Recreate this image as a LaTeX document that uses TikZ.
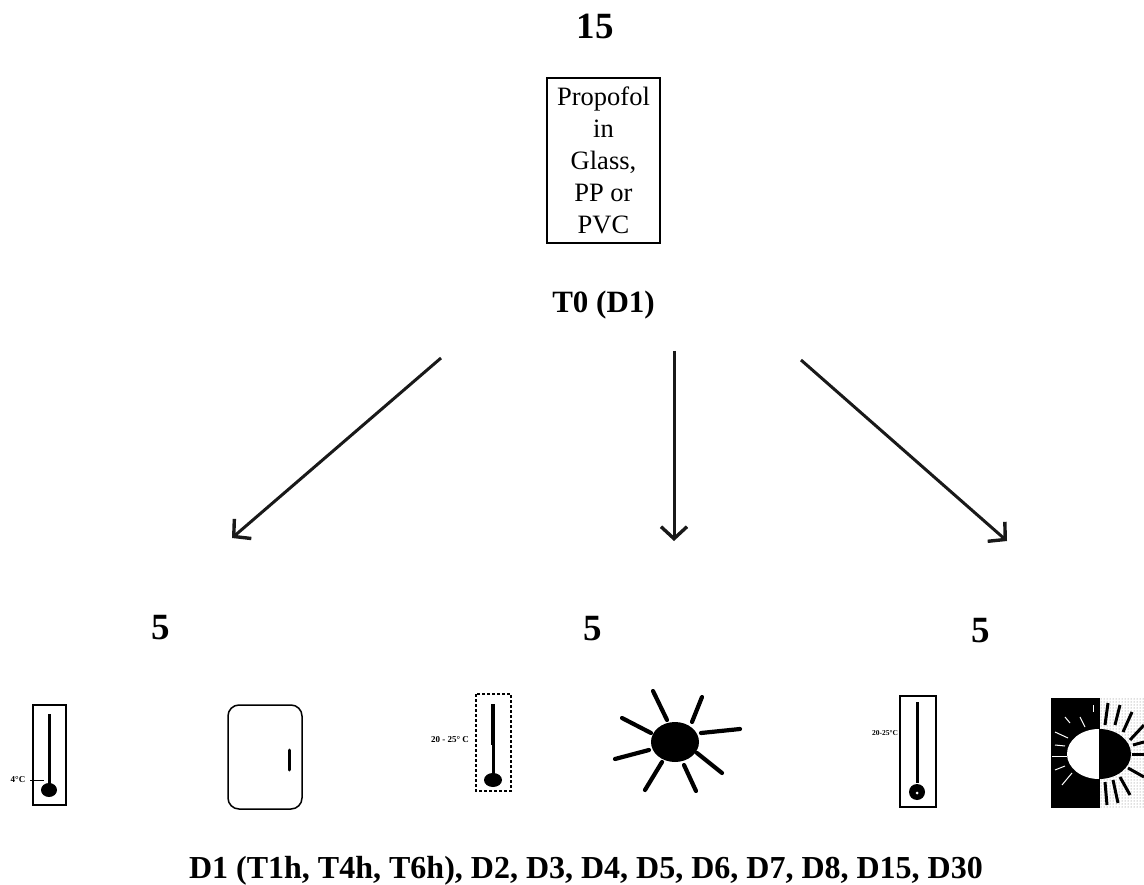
\documentclass[tikz,border=0pt]{standalone}
\usepackage{fontspec}
\setmainfont{Liberation Serif}
\usetikzlibrary{arrows.meta, positioning, patterns}
\tikzset{
  % Labels
  countlabel/.style={font=\fontsize{37}{37}\selectfont\bfseries, inner sep=0pt},
  timelabel/.style={font=\fontsize{31}{31}\selectfont\bfseries, inner sep=0pt},
  daylabel/.style={font=\fontsize{32}{32}\selectfont\bfseries, inner sep=0pt},
  templabel/.style={font=\fontsize{9}{9}\selectfont\bfseries, inner sep=0pt},
  % Sample box
  vialbox/.style={draw, line width=1.2pt, align=center, minimum width=113pt, minimum height=165pt,
    inner sep=0pt, font=\fontsize{26.5}{32}\selectfont},
  % Pointers
  flowpointer/.style={-{Straight Barb[length=12pt,width=26pt,line width=3.4pt]}, line width=3pt, draw=black!90},
  % Icons
  thermobox/.style={draw, line width=1.5pt},
  thermostem/.style={line width=3pt},
  sunray/.style={line width=4.2pt, line cap=round},
  nightray/.style={line width=1pt, draw=white},
  dayray/.style={line width=3pt},
}

\begin{document}
\begin{tikzpicture}[x=1pt, y=-1pt]
  \useasboundingbox (0,0) rectangle (1144,885);

  % Define top nodes
  \node[vialbox] (vial) at (603.5,160.5) {Propofol\\in\\Glass,\\PP or\\PVC};
  \node[countlabel, above=38pt of vial, xshift=-8.5pt] (total) {15};
  \node[timelabel, below=47pt of vial] (start) {T0 (D1)};

  % Arrow ends
  \coordinate (fromleft) at (441,358);
  \coordinate (frommid) at (674,351);
  \coordinate (fromright) at (801,360);
  \coordinate (toleft) at (232,538);
  \coordinate (tomid) at (674,541);
  \coordinate (toright) at (1007,541);

  \draw[flowpointer] (fromleft) -- (toleft);
  \draw[flowpointer] (frommid) -- (tomid);
  \draw[flowpointer] (fromright) -- (toright);

  % Group counts
  \node[countlabel] (coldcount) at (161,628) {5};
  \node[countlabel] (lightcount) at (593,629) {5};
  \node[countlabel] (darkcount) at (981,631) {5};

  % Fridge group
  \draw[thermobox] (33,705) rectangle (66,805);
  \draw[thermostem] (49,714) -- (49,785);
  \fill (49,790) ellipse (8 and 7);
  \draw[line width=0.6pt] (30,780) -- (44,780);
  \node[templabel] (coldtemp) at (18,780) {4°C};
  \draw[line width=1.5pt, rounded corners=11pt] (228,705) rectangle (302,809);
  \draw[line width=3pt, line cap=round] (289,750) -- (289,770);

  % Light group
  \draw[thermobox, densely dashed, line width=1.2pt] (476,694) rectangle (511,791);
  \draw[thermostem, line width=4pt] (493,704) -- (493,745);
  \draw[thermostem] (493,745) -- (493,775);
  \fill (493,780) ellipse (9 and 7);
  \node[templabel] (lighttemp) at (450,740) {20 - 25° C};
  \fill (675,742) ellipse (24 and 20);
  \foreach \xa/\ya/\xb/\yb in {653/691/667/720, 702/697/692/722, 740/729/701/733,
      622/718/651/733, 615/759/649/750, 722/773/697/753, 645/790/662/762, 696/791/684/765}
    \draw[sunray] (\xa,\ya) -- (\xb,\yb);

  % Dark group
  \draw[thermobox] (900,696) rectangle (936,807);
  \draw[thermostem] (917,702) -- (917,783);
  \fill (917,792) circle (8);
  \fill[white] (917,793) circle (1.5);
  \node[templabel, font=\fontsize{7.5}{7.5}\selectfont\bfseries] (darktemp) at (885,733) {20-25°C};
  \fill[pattern=dots, pattern color=black!55] (1100,698) rectangle (1144,808);
  \fill (1051,698) rectangle (1100,808);
  \fill[white] (1099,729) arc (90:270:32 and -25) -- cycle;
  \fill (1099,729) arc (90:-90:32 and -25) -- cycle;
  \foreach \xa/\ya/\xb/\yb in {1105/725/1108/703, 1115/725/1120/705, 1123/732/1132/712,
      1130/740/1144/725, 1133/745/1144/742, 1132/754/1144/754, 1128/768/1144/777,
      1120/777/1130/795, 1113/780/1118/803, 1105/782/1107/805}
    \draw[dayray] (\xa,\ya) -- (\xb,\yb);
  \foreach \xa/\ya/\xb/\yb in {1052/756/1067/756, 1055/732/1068/738, 1055/745/1065/746,
      1065/717/1070/723, 1080/717/1085/727, 1093/705/1093/712, 1055/770/1065/766, 1062/785/1072/773}
    \draw[nightray] (\xa,\ya) -- (\xb,\yb);

  % Sampling times
  \node[daylabel] (times) at (586,871) {D1 (T1h, T4h, T6h), D2, D3, D4, D5, D6, D7, D8, D15, D30};
\end{tikzpicture}
\end{document}
